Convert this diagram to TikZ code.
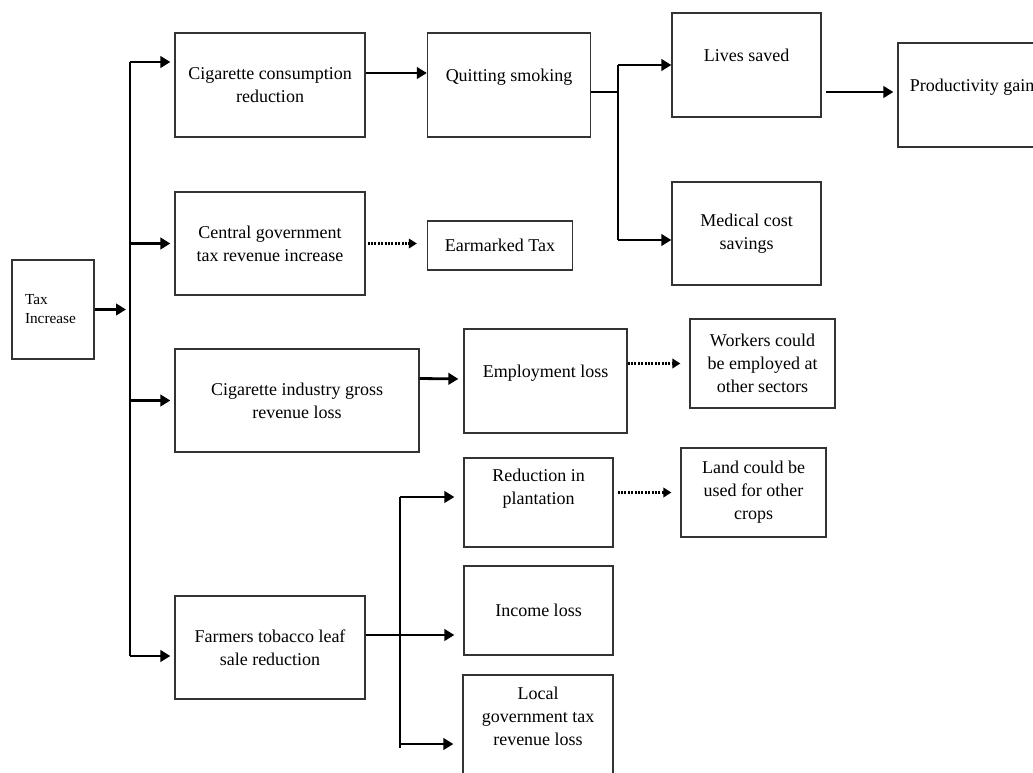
\documentclass[tikz,border=0pt]{standalone}
\usepackage{fontspec}
\setmainfont{Liberation Serif}
\usepackage{xcolor}
\usetikzlibrary{arrows.meta,positioning}

\begin{document}
\begin{tikzpicture}[
  x=1pt, y=-1pt,
  box/.style={draw=black!80, line width=1.3pt, align=center, inner sep=0pt, font=\fontsize{18}{23}\selectfont},
  lifted/.style={text depth=#1},
  lifted/.default=20pt,
  arrow/.style={-{Triangle[length=10pt,width=11.5pt]}, line width=2.8pt},
  dotarrow/.style={-{Triangle[length=8pt,width=9.5pt]}, line width=3pt, dash pattern=on 2pt off 1.4pt},
  link/.style={line width=1.3pt}
]
\useasboundingbox (0,0) rectangle (1033,773);

% boxes
\node[box, minimum width=82pt, minimum height=99pt, text width=56pt, align=left, font=\fontsize{15.3}{19}\selectfont] (tax) at (53,309.5) {Tax\\Increase};
\node[box, minimum width=190pt, minimum height=104pt] (cons) at (270,85) {Cigarette consumption\\reduction};
\node[box, minimum width=190pt, minimum height=103pt] (cent) at (270,243.5) {Central government\\tax revenue increase};
\node[box, minimum width=244pt, minimum height=103pt] (ind) at (297,400.5) {Cigarette industry gross\\revenue loss};
\node[box, minimum width=190pt, minimum height=103pt] (farm) at (270,647.5) {Farmers tobacco leaf\\sale reduction};
\node[box, lifted, minimum width=163pt, minimum height=104pt] (quit) at (509,85) {Quitting smoking};
\node[box, minimum width=145pt, minimum height=49pt] (ear) at (500,245.5) {Earmarked Tax};
\node[box, lifted, minimum width=149pt, minimum height=104pt] (lives) at (746.5,65) {Lives saved};
\node[box, minimum width=149pt, minimum height=103pt] (med) at (746.5,233.5) {Medical cost\\savings};
\node[box, lifted, minimum width=148pt, minimum height=104pt] (prod) at (972,95) {Productivity gain};
\node[box, lifted, minimum width=163pt, minimum height=104pt] (emp) at (545.5,381) {Employment loss};
\node[box, minimum width=145pt, minimum height=89pt] (work) at (762.5,363.5) {Workers could\\be employed at\\other sectors};
\node[box, lifted=31pt, minimum width=149pt, minimum height=89pt] (red) at (538.5,502.5) {Reduction in\\plantation};
\node[box, minimum width=145pt, minimum height=89pt] (land) at (753.5,492.5) {Land could be\\used for other\\crops};
\node[box, minimum width=149pt, minimum height=89pt] (inc) at (538.5,610.5) {Income loss};
\node[box, lifted=21pt, minimum width=150pt, minimum height=104pt] (loc) at (538,727) {Local\\government tax\\revenue loss};

% tax increase fan-out
\coordinate (bus) at (130,0);
\coordinate (consin) at ([yshift=23pt]cons.west);
\coordinate (farmin) at ([yshift=-8.5pt]farm.west);
\draw[link, line width=1.6pt] (bus |- consin) -- (bus |- farmin);
\draw[arrow, shorten >=4pt] (tax.east) -- (bus |- tax.east);
\foreach \n in {consin, cent.west, ind.west, farmin}
  \draw[arrow, shorten >=4pt] (bus |- \n) -- (\n);

% smoking branch
\coordinate (fork) at (618,0);
\coordinate (quitout) at ([yshift=-7pt]quit.east);
\coordinate (medin) at ([yshift=-6.5pt]med.west);
\draw[arrow] ([yshift=12pt]cons.east) -- ([yshift=12pt]quit.west);
\draw[link] (quitout) -- (fork |- quitout);
\draw[link, line width=1.6pt] (fork |- lives.west) -- (fork |- medin);
\foreach \n in {lives.west, medin}
  \draw[arrow] (fork |- \n) -- (\n);
\draw[arrow, shorten <=4pt, shorten >=4pt] ([yshift=-27pt]lives.east) -- ([yshift=3pt]prod.west);

% dotted links
\draw[dotarrow, shorten <=2pt, shorten >=10pt] (cent.east) -- (cent.east -| ear.west);
\draw[dotarrow, shorten >=9pt] (emp.east |- work.west) -- (work.west);
\draw[dotarrow, shorten <=4pt, shorten >=9pt] (red.east |- land.west) -- (land.west);

% industry and farmers
\draw[arrow, shorten >=5pt] ([yshift=22pt]ind.east) -- ([yshift=2pt]emp.west);
\coordinate (fork2) at (400,0);
\coordinate (busend) at (400,748);
\coordinate (farmout) at ([yshift=12.5pt]farm.east);
\coordinate (redin) at ([yshift=5.5pt]red.west);
\coordinate (incin) at ([yshift=-24.5pt]inc.west);
\coordinate (locin) at ([yshift=-17pt]loc.west);
\draw[link] (farmout) -- (fork2 |- farmout);
\draw[link, line width=1.6pt] (fork2 |- redin) -- (busend);
\foreach \n in {redin, incin, locin}
  \draw[arrow, shorten >=9pt] (fork2 |- \n) -- (\n);
\end{tikzpicture}
\end{document}
